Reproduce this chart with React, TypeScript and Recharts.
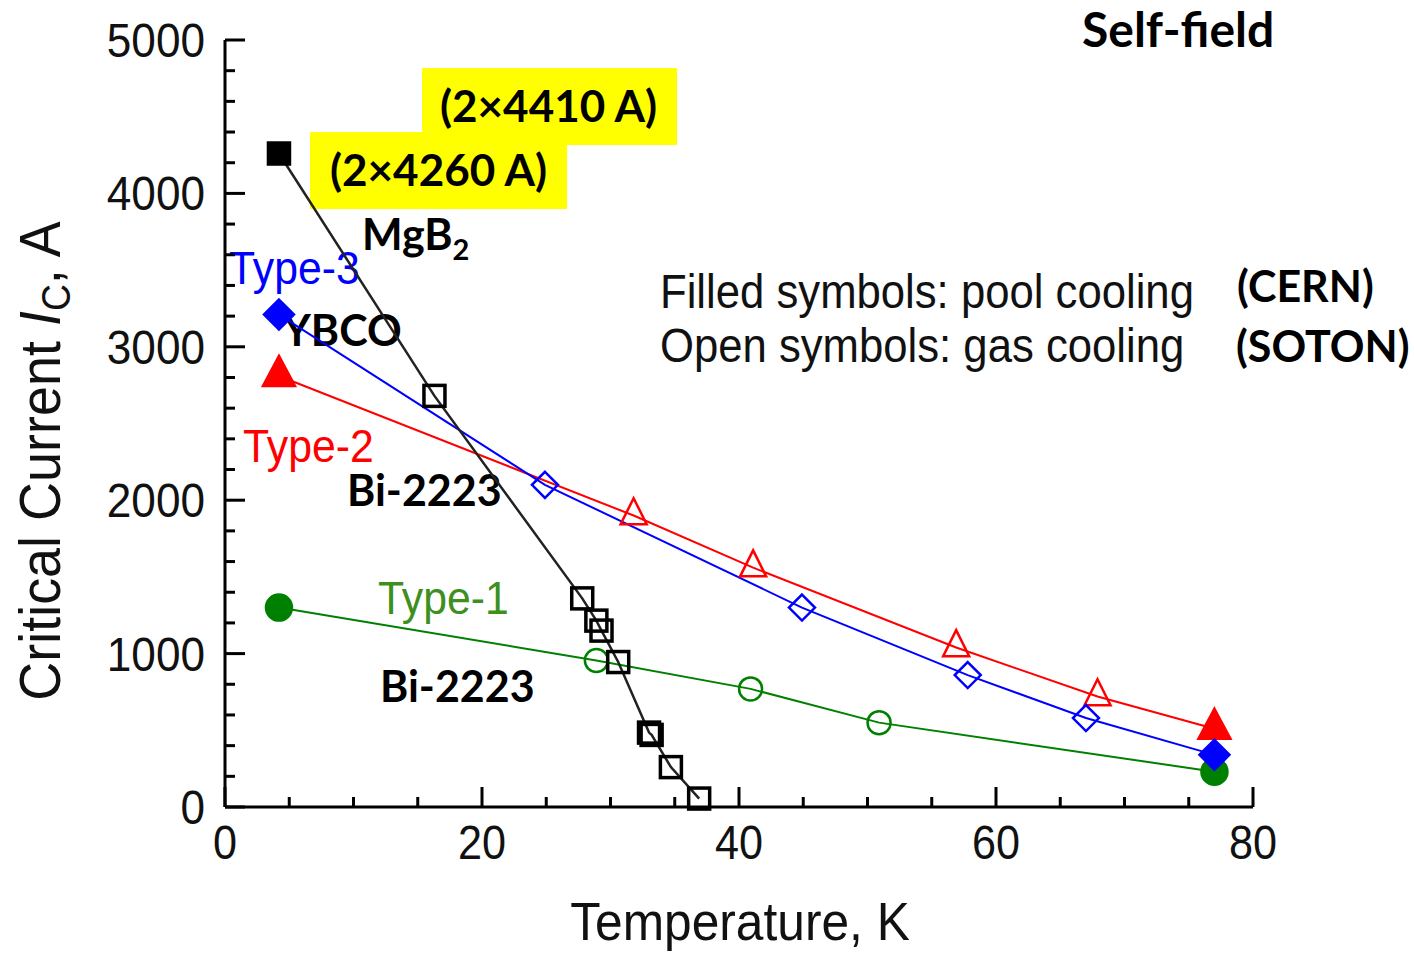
import { ComposedChart, XAxis, YAxis, Line, Scatter, Customized } from "recharts"

// MgB2 (black squares)
const mgb2PoolT = [4.2]
const mgb2PoolIc = [4260]
const mgb2GasT = [16.3, 27.8, 28.9, 29.3, 30.6, 33.0, 33.2, 34.7, 36.9]
const mgb2GasIc = [2680, 1360, 1215, 1150, 945, 485, 470, 260, 55]

// Type-3 YBCO (blue diamonds)
const ybcoPoolT = [4.2, 77]
const ybcoPoolIc = [3210, 340]
const ybcoGasT = [24.9, 44.9, 57.8, 67.0]
const ybcoGasIc = [2100, 1300, 860, 580]

// Type-2 Bi-2223 (red triangles)
const type2PoolT = [4.2, 77]
const type2PoolIc = [2810, 510]
const type2GasT = [31.8, 41.1, 56.9, 67.9]
const type2GasIc = [1900, 1560, 1040, 720]

// Type-1 Bi-2223 (green circles)
const type1PoolT = [4.2, 77]
const type1PoolIc = [1300, 230]
const type1GasT = [28.9, 40.9, 50.9]
const type1GasIc = [955, 770, 550]

const xTicks = [0, 5, 10, 15, 20, 25, 30, 35, 40, 45, 50, 55, 60, 65, 70, 75, 80]
const xLabelTicks = [0, 20, 40, 60, 80]
const yTicks = Array.from({ length: 26 }, (_, k) => k * 200)
const yLabelTicks = [0, 1000, 2000, 3000, 4000, 5000]

const BLUE = "#0000ff"
const RED = "#ff0000"
const GREEN = "#008000"
const AXIS_FONT = "'Liberation Sans', Arial, sans-serif"
const BOLD_FONT = "Lato, 'Open Sans', sans-serif"

type Pt = { t: number; i: number }
const rows = (ts: number[], is: number[]): Pt[] => ts.map((t, k) => ({ t, i: is[k] }))
const merged = (a: Pt[], b: Pt[]) => [...a, ...b].sort((p, q) => p.t - q.t)

const mgb2Pool = rows(mgb2PoolT, mgb2PoolIc)
const mgb2Gas = rows(mgb2GasT, mgb2GasIc)
const ybcoPool = rows(ybcoPoolT, ybcoPoolIc)
const ybcoGas = rows(ybcoGasT, ybcoGasIc)
const type2Pool = rows(type2PoolT, type2PoolIc)
const type2Gas = rows(type2GasT, type2GasIc)
const type1Pool = rows(type1PoolT, type1PoolIc)
const type1Gas = rows(type1GasT, type1GasIc)

function XTick(props: any) {
  const { x, y, payload } = props
  const v = payload.value
  const major = xLabelTicks.includes(v)
  return (
    <g>
      <line x1={x} x2={x} y1={y} y2={y - (major ? 20 : 10)} stroke="#000" strokeWidth={3} />
      {major && (
        <text
          transform={`translate(${x},${y + 52}) scale(0.9,1)`}
          textAnchor="middle"
          fontFamily={AXIS_FONT}
          fontSize={48}
          fill="#111"
        >
          {v}
        </text>
      )}
    </g>
  )
}

function YTick(props: any) {
  const { x, y, payload } = props
  const v = payload.value
  const major = yLabelTicks.includes(v)
  return (
    <g>
      <line x1={x} x2={x + (major ? 20 : 10)} y1={y} y2={y} stroke="#000" strokeWidth={3} />
      {major && (
        <text
          transform={`translate(${x - 20},${y + 17}) scale(0.92,1)`}
          textAnchor="end"
          fontFamily={AXIS_FONT}
          fontSize={48}
          fill="#111"
        >
          {v}
        </text>
      )}
    </g>
  )
}

const square = (filled: boolean) => (p: any) => (
  <rect
    x={p.cx - 10.5}
    y={p.cy - 10.5}
    width={21}
    height={21}
    fill={filled ? "#000" : "#fff"}
    fillOpacity={filled ? 1 : 0}
    stroke="#000"
    strokeWidth={3.5}
  />
)

const diamond = (filled: boolean) => (p: any) => {
  const r = filled ? 15 : 13
  return (
    <path
      d={`M${p.cx},${p.cy - r}L${p.cx + r},${p.cy}L${p.cx},${p.cy + r}L${p.cx - r},${p.cy}Z`}
      fill={filled ? BLUE : "none"}
      stroke={BLUE}
      strokeWidth={2.5}
    />
  )
}

const triangle = (filled: boolean) => (p: any) => {
  const h = filled ? 30 : 26
  const w = filled ? 32 : 26
  return (
    <path
      d={`M${p.cx},${p.cy - (h * 2) / 3}L${p.cx + w / 2},${p.cy + h / 3}L${p.cx - w / 2},${p.cy + h / 3}Z`}
      fill={filled ? RED : "none"}
      stroke={RED}
      strokeWidth={2.5}
    />
  )
}

const circle = (filled: boolean) => (p: any) => (
  <circle
    cx={p.cx}
    cy={p.cy}
    r={filled ? 13 : 11.5}
    fill={filled ? GREEN : "none"}
    stroke={GREEN}
    strokeWidth={2.5}
  />
)

function Annotations() {
  const bold = { fontFamily: BOLD_FONT, fontWeight: 700, fill: "#000" }
  return (
    <g>
      <text x={1082} y={47} fontSize={48} {...bold}>
        Self-field
      </text>
      <rect x={422} y={68} width={255} height={77} fill="#ffff00" />
      <text x={440} y={122} fontSize={44} {...bold}>
        (2×4410 A)
      </text>
      <rect x={310} y={132} width={257} height={77} fill="#ffff00" />
      <text x={330} y={186} fontSize={44} {...bold}>
        (2×4260 A)
      </text>
      <text x={362} y={250} fontSize={43} {...bold}>
        MgB<tspan fontSize={29} dy={10}>2</tspan>
      </text>
      <text x={283} y={346} fontSize={43} {...bold}>
        YBCO
      </text>
      <text x={347} y={506} fontSize={43} {...bold}>
        Bi-2223
      </text>
      <text x={380} y={702} fontSize={43} {...bold}>
        Bi-2223
      </text>
      <text x={1237} y={302} fontSize={43} {...bold}>
        (CERN)
      </text>
      <text x={1236} y={362} fontSize={43} {...bold}>
        (SOTON)
      </text>

      <text transform="translate(229,284) scale(0.93,1)" fontFamily={AXIS_FONT} fontSize={46} fill={BLUE}>
        Type-3
      </text>
      <text transform="translate(243,462) scale(0.93,1)" fontFamily={AXIS_FONT} fontSize={46} fill={RED}>
        Type-2
      </text>
      <text transform="translate(378,614) scale(0.93,1)" fontFamily={AXIS_FONT} fontSize={46} fill="#3f8f1f">
        Type-1
      </text>

      <text transform="translate(660,308) scale(0.91,1)" fontFamily={AXIS_FONT} fontSize={48} fill="#111">
        Filled symbols: pool cooling
      </text>
      <text transform="translate(660,362) scale(0.91,1)" fontFamily={AXIS_FONT} fontSize={48} fill="#111">
        Open symbols: gas cooling
      </text>

      <text transform="translate(740,940) scale(0.92,1)" textAnchor="middle" fontFamily={AXIS_FONT} fontSize={54} fill="#111">
        Temperature, K
      </text>
      <text
        transform="translate(60,461) rotate(-90) scale(0.93,1)"
        textAnchor="middle"
        fontFamily={AXIS_FONT}
        fontSize={58}
        fill="#111"
      >
        Critical Current <tspan fontStyle="italic">I</tspan>
        <tspan fontSize={40} dy={10}>C</tspan>
        <tspan dy={-10}>, A</tspan>
      </text>
    </g>
  )
}

export default function App() {
  return (
    <div style={{ position: "absolute", left: 0, top: 0, background: "#fff" }}>
      <ComposedChart
        width={1414}
        height={954}
        margin={{ top: 40, right: 161, bottom: 87, left: 105 }}
        style={{ background: "#fff" }}
      >
        <XAxis
          type="number"
          dataKey="t"
          domain={[0, 80]}
          ticks={xTicks}
          interval={0}
          tickSize={0}
          tickMargin={0}
          tick={<XTick />}
          height={60}
          axisLine={{ stroke: "#000", strokeWidth: 3 }}
        />
        <YAxis
          type="number"
          dataKey="i"
          domain={[0, 5000]}
          ticks={yTicks}
          interval={0}
          tickSize={0}
          tickMargin={0}
          tick={<YTick />}
          width={120}
          axisLine={{ stroke: "#000", strokeWidth: 3 }}
        />
        <Line data={merged(type1Pool, type1Gas)} dataKey="i" stroke={GREEN} strokeWidth={2} dot={false} isAnimationActive={false} />
        <Line data={merged(type2Pool, type2Gas)} dataKey="i" stroke={RED} strokeWidth={2} dot={false} isAnimationActive={false} />
        <Line data={merged(ybcoPool, ybcoGas)} dataKey="i" stroke={BLUE} strokeWidth={2} dot={false} isAnimationActive={false} />
        <Line data={merged(mgb2Pool, mgb2Gas)} dataKey="i" stroke="#222" strokeWidth={2.5} dot={false} isAnimationActive={false} />
        <Scatter data={type1Gas} shape={circle(false)} isAnimationActive={false} />
        <Scatter data={type1Pool} shape={circle(true)} isAnimationActive={false} />
        <Scatter data={type2Gas} shape={triangle(false)} isAnimationActive={false} />
        <Scatter data={type2Pool} shape={triangle(true)} isAnimationActive={false} />
        <Scatter data={ybcoGas} shape={diamond(false)} isAnimationActive={false} />
        <Scatter data={ybcoPool} shape={diamond(true)} isAnimationActive={false} />
        <Scatter data={mgb2Gas} shape={square(false)} isAnimationActive={false} />
        <Scatter data={mgb2Pool} shape={square(true)} isAnimationActive={false} />
        <Customized component={Annotations} />
      </ComposedChart>
    </div>
  )
}
